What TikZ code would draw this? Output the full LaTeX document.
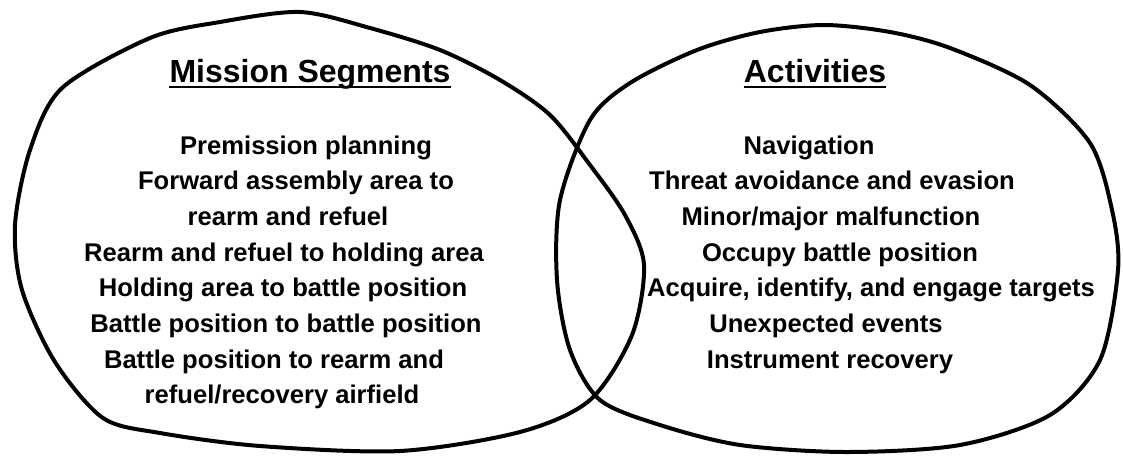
\documentclass[tikz,border=0pt]{standalone}
\usepackage{fontspec}
\setmainfont{Liberation Sans}

\begin{document}
\begin{tikzpicture}[x=1pt,y=-1pt,
    blob/.style={line width=4pt,line join=round},
    title/.style={font=\bfseries\fontsize{32}{38}\selectfont,inner sep=0pt,anchor=base},
    item/.style={font=\bfseries\fontsize{25.6}{30}\selectfont,inner sep=0pt,anchor=base}]

  \useasboundingbox (0,0) rectangle (1123,455);

  % Outlines
  \draw[blob] plot[smooth cycle] coordinates {(300,12) (370,28) (440,50) (500,80) (550,115)
     (590,165) (625,215) (644,265) (632,335) (590,400) (520,432) (400,451) (260,446)
     (160,433) (103,418) (55,362) (22,290) (15,225) (30,150) (62,88) (150,38) (220,22)};
  \draw[blob] plot[smooth cycle] coordinates {(630,83) (697,50) (760,32) (824,25) (890,32)
     (950,48) (1030,85) (1090,143) (1112,210) (1118,270) (1100,360) (1050,415) (960,445)
     (846,452) (740,445) (660,425) (600,400) (570,350) (557,280) (560,200) (590,120)};

  %Titles
  \node[title] (segtitle) at (310,82) {Mission Segments};
  \node[title] (acttitle) at (815,82) {Activities};
  \foreach \n in {segtitle,acttitle}
    \draw[line width=2.5pt] ([yshift=-5pt]\n.base west) -- ([yshift=-5pt]\n.base east);

  %Mission segments
  \foreach \x/\t [count=\i from 0] in {306/Premission planning, 296/Forward assembly area to,
      288/rearm and refuel, 284/Rearm and refuel to holding area, 283/Holding area to battle position,
      286/Battle position to battle position, 274/Battle position to rearm and,
      282/{refuel/recovery airfield}}
    \node[item] (seg\i) at (\x,154+35.7*\i) {\t};

  %Activities
  \foreach \x/\t [count=\i from 0] in {809/Navigation, 832/Threat avoidance and evasion,
      831/{Minor/major malfunction}, 840/Occupy battle position,
      871/{Acquire, identify, and engage targets}, 826/Unexpected events, 830/Instrument recovery}
    \node[item] (act\i) at (\x,154+35.7*\i) {\t};

\end{tikzpicture}
\end{document}
